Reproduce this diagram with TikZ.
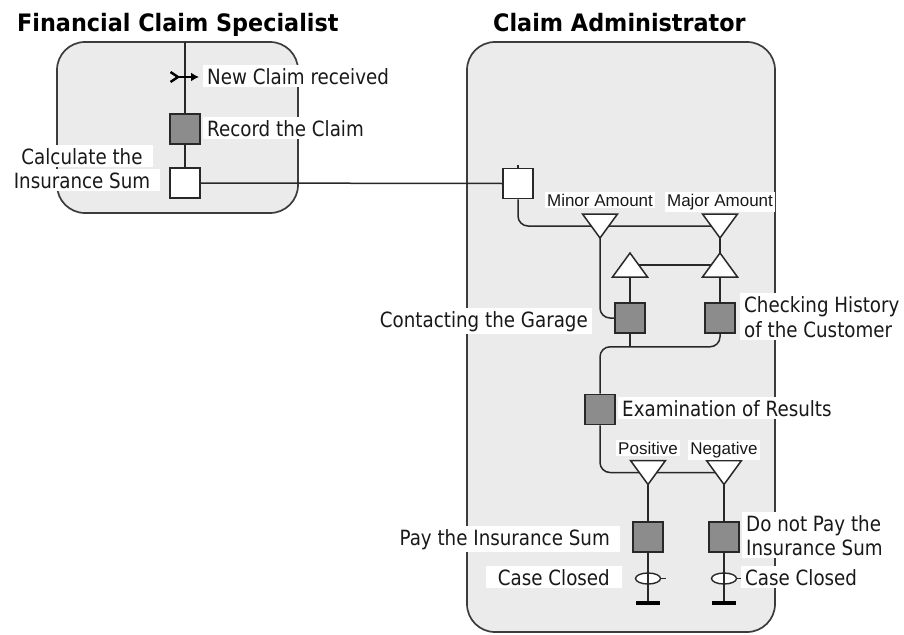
\documentclass[tikz,border=0pt]{standalone}
\usepackage{fontspec}
\setmainfont{DejaVu Sans}[FakeStretch=0.87]
\newfontfamily\titlefont{DejaVu Sans}[FakeStretch=0.93]
\newfontfamily\branchfont{Liberation Sans}
\usetikzlibrary{arrows.meta,shapes.geometric}
\pgfdeclarelayer{lanes}
\pgfdeclarelayer{flows}
\pgfsetlayers{lanes,flows,main}
\definecolor{lanefill}{RGB}{235,235,235}
\definecolor{laneline}{RGB}{60,60,60}
\definecolor{flowline}{RGB}{40,40,40}
\definecolor{taskfill}{RGB}{140,140,140}
\tikzset{
  lane/.style={draw=laneline, line width=1.7pt, fill=lanefill, rounded corners=28pt},
  flow/.style={draw=flowline, line width=1.5pt, rounded corners=10pt},
  task/.style={draw=flowline, line width=1.6pt, fill=taskfill, minimum size=30pt, inner sep=0pt},
  subtask/.style={task, fill=white},
  gw/.style={draw=flowline, line width=1.5pt, fill=white, line join=miter},
  endev/.style={ellipse, draw=flowline, line width=1.4pt, fill=white, minimum width=25pt, minimum height=11pt, inner sep=0pt},
  endbar/.style={fill=black, minimum width=24pt, minimum height=4.5pt, inner sep=0pt},
  lbl/.style={fill=white, inner xsep=4pt, inner ysep=3pt, font=\fontsize{21}{25}\selectfont, text=black!90},
  small/.style={fill=white, inner xsep=2pt, inner ysep=2pt, font=\branchfont\fontsize{17}{20}\selectfont, text=black!90, anchor=base},
  title/.style={inner sep=0pt, anchor=base west, font=\titlefont\bfseries\fontsize{24}{28}\selectfont},
  gwdown/.pic={
    \draw[gw] (-17.5,-12) -- (17.5,-12) -- (0,12) -- cycle;
    \coordinate (-tip) at (0,12);
    \coordinate (-c) at (0,0);
    \coordinate (-base) at (0,-12);
  },
  gwup/.pic={
    \draw[gw] (-17.5,12) -- (17.5,12) -- (0,-12) -- cycle;
    \coordinate (-tip) at (0,-12);
    \coordinate (-c) at (0,0);
    \coordinate (-base) at (0,12);
  },
}
\begin{document}
\begin{tikzpicture}[x=1pt,y=-1pt]
\useasboundingbox (0,0) rectangle (904,634);

% swimlanes
\begin{pgfonlayer}{lanes}
  \fill[white] (0,0) rectangle (904,634);
  \draw[lane] (57,42) rectangle (298,213);
  \draw[lane] (467,42) rectangle (775,632);
\end{pgfonlayer}
\node[title] (t1) at (17,32) {Financial Claim Specialist};
\node[title] (t2) at (493,32) {Claim Administrator};

% activities
\node[task] (record) at (185,129) {};
\node[subtask] (calc) at (185,183) {};
\node[subtask] (recv) at (518,183.5) {};
\node[task] (contact) at (630,318) {};
\node[task] (check) at (720,318) {};
\node[task] (exam) at (600,409.5) {};
\node[task] (pay) at (648,537) {};
\node[task] (nopay) at (724,537) {};

% gateways
\pic (minor) at (600,226) {gwdown};
\pic (major) at (720,226) {gwdown};
\pic (joinA) at (630,265) {gwup};
\pic (joinB) at (720,265) {gwup};
\pic (pos) at (648,472.5) {gwdown};
\pic (neg) at (724,472.5) {gwdown};

% end events
\node[endbar] (payBar) at (648,603) {};
\node[endbar] (nopayBar) at (724,603) {};
\coordinate (laneTop) at (185,42);

% connectors
\begin{pgfonlayer}{flows}
  \node[endev] (payEnd) at (648,578.5) {};
  \node[endev] (nopayEnd) at (724,578.5) {};
  \draw[flow] (laneTop) -- (record.north);
  \draw[flow] (record.south) -- (calc.north);
  \draw[flow] (calc.east) -- (recv.west);
  \draw[flow] (recv.north) -- ++(0,-2.5);
  \draw[flow] (recv.south) |- (major-c);
  \draw[flow] (minor-tip) |- (contact.west);
  \draw[flow] (major-tip) -- (joinB-tip);
  \draw[flow] (contact.north) -- (joinA-base);
  \draw[flow] (check.north) -- (joinB-base);
  \draw[flow] (joinA-c) -- (joinB-c);
  \draw[flow] (check.south) -- ++(0,13) -| (exam.north);
  \draw[flow] (contact.south) -- ++(0,13);
  \draw[flow] (exam.south) |- (neg-c);
  \draw[flow] (pos-tip) -- (pay.north);
  \draw[flow] (neg-tip) -- (nopay.north);
  \draw[flow] (pay.south) -- (payBar.north);
  \draw[flow] (nopay.south) -- (nopayBar.north);
  \draw[flow] (payEnd.east) -- ++(5,0);
  \draw[flow] (nopayEnd.east) -- ++(7,0);
\end{pgfonlayer}

% start event: message trigger on the incoming flow
\draw[black, line width=2.4pt, line join=miter] (170.5,72) -- (178,77) -- (170.5,82);
\draw[black, line width=1.8pt, -{Latex[length=8pt,width=9pt]}] (176,77) -- (199,77);

% labels
\node[lbl, anchor=base west] (lNew) at (203,84) {New Claim received};
\node[lbl, anchor=base west] (lRecord) at (203,136) {Record the Claim};
\node[lbl, anchor=base, inner xsep=10pt] (lCalc1) at (82,164) {Calculate the};
\node[lbl, anchor=base, inner xsep=10pt] (lCalc2) at (82,188) {Insurance Sum};
\node[lbl, anchor=base east] (lContact) at (592,327) {Contacting the Garage};
\node[lbl, anchor=base west] (lCheck1) at (740,312) {Checking History};
\node[lbl, anchor=base west] (lCheck2) at (740,337) {of the Customer};
\node[lbl, anchor=base west] (lExam) at (618,416) {Examination of Results};
\node[lbl, anchor=base east, inner xsep=10pt] (lPay) at (620,545) {Pay the Insurance Sum};
\node[lbl, anchor=base west] (lNo1) at (742,531) {Do not Pay the};
\node[lbl, anchor=base west] (lNo2) at (742,555) {Insurance Sum};
\node[lbl, anchor=base east, inner xsep=12pt] (lClose1) at (622,585) {Case Closed};
\node[lbl, anchor=base west] (lClose2) at (741,585) {Case Closed};
\node[small] (lMinor) at (600,206) {Minor Amount};
\node[small] (lMajor) at (720,206) {Major Amount};
\node[small] (lPos) at (648,454) {Positive};
\node[small] (lNeg) at (724,454) {Negative};
\end{tikzpicture}
\end{document}
